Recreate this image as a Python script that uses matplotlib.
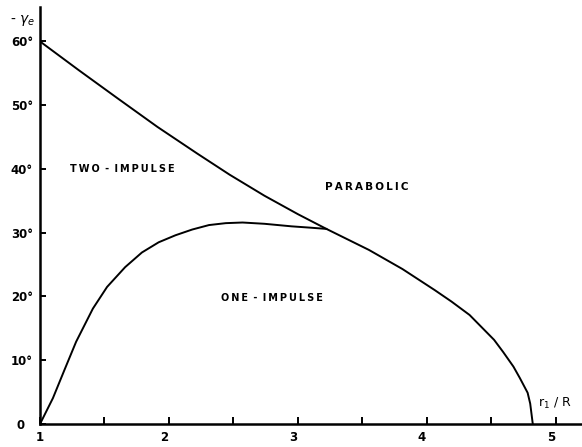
import matplotlib.pyplot as plt
import matplotlib.transforms as mtransforms

# boundary between two-impulse / parabolic and one-impulse regions
r_upper = [1.00, 1.30, 1.60, 1.91, 2.22, 2.47, 2.74, 3.00, 3.22, 3.55,
           3.81, 4.06, 4.19, 4.33, 4.52, 4.59, 4.67, 4.72, 4.78, 4.80, 4.82]
gamma_upper = [60.0, 55.5, 51.1, 46.6, 42.4, 39.1, 35.8, 32.9, 30.6, 27.3,
               24.3, 21.0, 19.2, 17.1, 13.2, 11.3, 9.0, 7.2, 4.9, 3.2, 0.0]

# one-impulse region boundary
r_one = [1.00, 1.10, 1.19, 1.28, 1.41, 1.52, 1.66, 1.79, 1.92, 2.05,
         2.18, 2.31, 2.44, 2.57, 2.74, 2.95, 3.09, 3.22]
gamma_one = [0.0, 4.05, 8.5, 12.9, 18.1, 21.5, 24.6, 26.9, 28.5, 29.6,
             30.5, 31.2, 31.5, 31.6, 31.4, 31.0, 30.8, 30.6]

x_ticks = [1, 1.5, 2, 2.5, 3, 3.5, 4, 4.5, 5]
x_labels = ["1", "", "2", "", "3", "", "4", "", "5"]
y_ticks = [0, 10, 20, 30, 40, 50, 60]
y_labels = ["0", "10°", "20°", "30°", "40°", "50°", "60°"]

region_names = ["TWO - IMPULSE", "ONE - IMPULSE", "PARABOLIC"]
region_r = [1.64, 2.80, 3.53]
region_gamma = [40.0, 19.7, 37.1]

fig = plt.figure(figsize=(5.82, 4.47), dpi=100)
ax = fig.add_axes([40 / 582, 23 / 447, 542 / 582, 417 / 447])

ax.plot(r_upper, gamma_upper, color="black", lw=1.4, solid_joinstyle="round")
ax.plot(r_one, gamma_one, color="black", lw=1.4, solid_joinstyle="round")

ax.set_xlim(1, 1 + 542 / 129)
ax.set_ylim(0, 65.4)

for s in ["top", "right"]:
    ax.spines[s].set_visible(False)
for s in ["left", "bottom"]:
    ax.spines[s].set_linewidth(1.8)

ax.set_xticks(x_ticks)
ax.set_xticklabels(x_labels, fontsize=8.5, fontweight="bold")
ax.set_yticks(y_ticks)
ax.set_yticklabels(y_labels, fontsize=8.5, fontweight="bold")
ax.tick_params(axis="x", direction="in", length=5, width=1.4, pad=5)
ax.tick_params(axis="y", direction="in", length=4.5, width=1.4, pad=5)

# x labels sit a little left of their ticks
shift = mtransforms.ScaledTranslation(-5 / 100, 0, fig.dpi_scale_trans)
for lab in ax.get_xticklabels()[1:]:
    lab.set_transform(lab.get_transform() + shift)
# the zero label sits further left
zero = ax.get_yticklabels()[0]
zero.set_transform(zero.get_transform() + mtransforms.ScaledTranslation(-8 / 100, 0, fig.dpi_scale_trans))

# region names, letter-spaced with thin spaces
for name, rx, gy in zip(region_names, region_r, region_gamma):
    spaced = "\u2009".join(name.replace(" - ", "-")).replace("-", " - ")
    size = 7.5 if name == "PARABOLIC" else 7.0
    ax.text(rx, gy, spaced, fontsize=size, fontweight="bold", ha="center", va="center")

fig.text(10 / 582, 1 - 20 / 447, r"- $\gamma_e$", fontsize=10, ha="left", va="center")
ax.text(555 / 542 - 40 / 542, 21 / 417, r"r$_1$ / R", transform=ax.transAxes,
        fontsize=9, ha="center", va="center")

fig.savefig("out.png", dpi=100)
